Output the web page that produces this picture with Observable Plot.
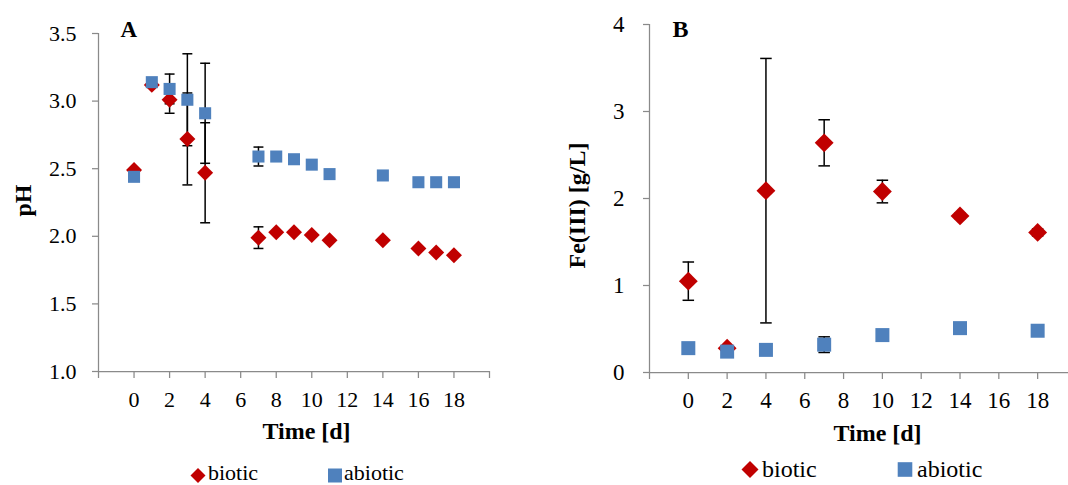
<!DOCTYPE html>
<html><head><meta charset="utf-8">
<script src="https://cdn.jsdelivr.net/npm/d3@7"></script>
<script src="https://cdn.jsdelivr.net/npm/@observablehq/plot@0.6"></script>
<style>
html,body{margin:0;padding:0;background:#fff;}
#wrap{position:relative;width:1068px;height:485px;overflow:hidden;font-family:"Liberation Serif","Times New Roman",serif;}
#panelA,#panelB{position:absolute;top:0;}
#panelA{left:0;}
#panelB{left:534px;}
#legend{position:absolute;left:0;top:0;}
</style></head><body>
<div id="wrap"><div id="panelA"></div><div id="panelB"></div>
<svg id="legend" width="1068" height="485" font-family="Liberation Serif, Times New Roman, serif"></svg></div>
<script>
// ---- Panel A: pH ----
const pHTime = [0, 1, 2, 3, 4, 7, 8, 9, 10, 11, 14, 16, 17, 18];
const pHBiotic = [2.49, 3.12, 3.01, 2.72, 2.47, 1.99, 2.03, 2.03, 2.01, 1.97, 1.97, 1.91, 1.88, 1.86];
const pHBioticErr = [0, 0, 0.10, 0.34, 0.37, 0.08, 0, 0, 0, 0, 0, 0, 0, 0];
const pHAbiotic = [2.44, 3.14, 3.09, 3.01, 2.91, 2.59, 2.59, 2.57, 2.53, 2.46, 2.45, 2.40, 2.40, 2.40];
const pHAbioticErr = [0, 0, 0.11, 0.34, 0.37, 0.07, 0, 0, 0, 0, 0, 0, 0, 0];
const pHTicks = [1.0, 1.5, 2.0, 2.5, 3.0, 3.5];

// ---- Panel B: Fe(III) ----
const feTime = [0, 2, 4, 7, 10, 14, 18];
const feBiotic = [1.05, 0.28, 2.09, 2.64, 2.08, 1.80, 1.61];
const feBioticErr = [0.22, 0, 1.52, 0.265, 0.13, 0.03, 0.04];
const feAbiotic = [0.28, 0.24, 0.26, 0.32, 0.43, 0.51, 0.48];
const feAbioticErr = [0, 0, 0, 0.09, 0, 0, 0];
const feTicks = [0, 1, 2, 3, 4];

const timeTicks = [-2, 0, 2, 4, 6, 8, 10, 12, 14, 16, 18, 20];
const seriesNames = ["biotic", "abiotic"];

const RED = "#C00000", BLUE = "#4F81BD", AXIS = "#8a8a8a";
const cap = {draw(ctx, size) { const w = Math.sqrt(size); ctx.moveTo(-w / 2, 0); ctx.lineTo(w / 2, 0); }};
const rows = (time, val, err) => time.map((t, i) => ({t, v: val[i], e: err[i]}));

function panel(o) {
  const bio = rows(o.time, o.bio, o.bioErr), abio = rows(o.time, o.abio, o.abioErr);
  const errs = [...bio, ...abio].filter(d => d.e > 0);
  return Plot.plot({
    width: o.width, height: o.height,
    marginLeft: o.ml, marginRight: o.mr, marginTop: o.mt, marginBottom: o.mb,
    style: {background: "transparent", color: "black", fontFamily: "Liberation Serif, Times New Roman, serif", overflow: "visible"},
    x: {domain: o.xDomain},
    y: {domain: o.yDomain},
    marks: [
      Plot.ruleY([o.yDomain[0]], {stroke: AXIS, strokeWidth: 1.25}),
      Plot.ruleX([o.xDomain[0]], {stroke: AXIS, strokeWidth: 1.25}),
      Plot.axisY({ticks: o.yTicks, tickFormat: o.yFormat, tickSize: 6, tickPadding: o.yPad, stroke: AXIS, strokeWidth: 1.25, fill: "black", fontSize: o.tickFont, label: null}),
      Plot.axisX({ticks: o.xTicks, tickFormat: d => (d >= 0 && d <= 18 ? String(d) : ""), tickSize: 7, tickPadding: o.xPad, stroke: AXIS, strokeWidth: 1.25, fill: "black", fontSize: o.tickFont, label: null}),
      Plot.ruleX(errs, {x: "t", y1: d => d.v - d.e, y2: d => d.v + d.e, stroke: "black", strokeWidth: 1.5}),
      Plot.dot(errs, {x: "t", y: d => d.v + d.e, symbol: cap, r: o.capR, stroke: "black", strokeWidth: 1.5}),
      Plot.dot(errs, {x: "t", y: d => d.v - d.e, symbol: cap, r: o.capR, stroke: "black", strokeWidth: 1.5}),
      Plot.dot(bio, {x: "t", y: "v", symbol: "diamond2", r: o.diaR, fill: RED, stroke: "none"}),
      Plot.dot(abio, {x: "t", y: "v", symbol: "square", r: o.sqR, fill: BLUE, stroke: "none"}),
      Plot.text([o.letter], {text: d => d, frameAnchor: "top-left", lineAnchor: "middle", textAnchor: "start", dx: o.letterDx, dy: o.letterDy, fontSize: o.letterFont, fontWeight: "bold"}),
      Plot.text([o.yLabel], {text: d => d, frameAnchor: "left", lineAnchor: "middle", textAnchor: "middle", rotate: -90, dx: o.yLabDx, dy: o.yLabDy, fontSize: o.titleFont, fontWeight: "bold"}),
      Plot.text(["Time [d]"], {text: d => d, frameAnchor: "bottom", lineAnchor: "middle", textAnchor: "middle", dx: o.xLabDx, dy: o.xLabDy, fontSize: o.titleFont, fontWeight: "bold"})
    ]
  });
}

document.getElementById("panelA").append(panel({
  width: 534, height: 455, ml: 98, mr: 45, mt: 33, mb: 84,
  xDomain: [-2, 20], yDomain: [1, 3.5], xTicks: timeTicks, yTicks: pHTicks, yFormat: d3.format(".1f"),
  time: pHTime, bio: pHBiotic, bioErr: pHBioticErr, abio: pHAbiotic, abioErr: pHAbioticErr,
  tickFont: 22, yPad: 16, xPad: 13, capR: 5.6, diaR: 7.2, sqR: 6.8,
  letter: "A", letterDx: 22, letterDy: -3.5, letterFont: 23,
  yLabel: "pH", yLabDx: -75, yLabDy: -2, titleFont: 24,
  xLabDx: 12.5, xLabDy: 60
}));

document.getElementById("panelB").append(panel({
  width: 534, height: 455, ml: 115, mr: 0, mt: 24, mb: 83,
  xDomain: [-2, 19.59], yDomain: [0, 4], xTicks: timeTicks.filter(d => d <= 18), yTicks: feTicks, yFormat: d3.format("d"),
  time: feTime, bio: feBiotic, bioErr: feBioticErr, abio: feAbiotic, abioErr: feAbioticErr,
  tickFont: 23, yPad: 19, xPad: 12, capR: 6.5, diaR: 8.5, sqR: 7.9,
  letter: "B", letterDx: 23, letterDy: 5, letterFont: 24,
  yLabel: "Fe(III) [g/L]", yLabDx: -72, yLabDy: 7, titleFont: 24,
  xLabDx: 18.5, xLabDy: 60.5
}));

// ---- Legends ----
const legendSpec = [
  {items: [{x: 198, y: 475.5, half: 7.5, text: 208, base: 480, fs: 22}, {x: 335, y: 475.5, half: 7, text: 344, base: 480, fs: 22}]},
  {items: [{x: 750, y: 469.5, half: 8.5, text: 762, base: 476.5, fs: 24}, {x: 905, y: 469.5, half: 7.3, text: 917, base: 476.5, fs: 24}]}
];
const lg = d3.select("#legend");
for (const spec of legendSpec) {
  spec.items.forEach((it, i) => {
    if (i === 0) {
      lg.append("path").attr("d", `M${it.x},${it.y - it.half}L${it.x + it.half},${it.y}L${it.x},${it.y + it.half}L${it.x - it.half},${it.y}Z`).attr("fill", RED);
    } else {
      lg.append("rect").attr("x", it.x - it.half).attr("y", it.y - it.half).attr("width", 2 * it.half).attr("height", 2 * it.half).attr("fill", BLUE);
    }
    lg.append("text").attr("x", it.text).attr("y", it.base).attr("font-size", it.fs).attr("fill", "black").text(seriesNames[i]);
  });
}
</script>
</body></html>
